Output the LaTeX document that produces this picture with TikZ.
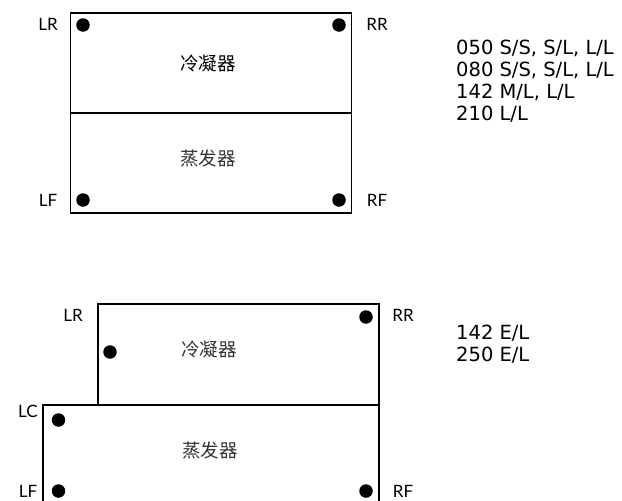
\documentclass[tikz,border=0pt]{standalone}
\usepackage{fontspec}
\setmainfont{DejaVu Sans}
\newfontfamily\cjk{Noto Sans CJK SC}
\newfontfamily\latofont{Lato}
\definecolor{txtgray}{HTML}{333333}
\begin{document}
\begin{tikzpicture}[x=1pt,y=-1pt,
  boxline/.style={line width=1.8pt},
  dotmark/.style={circle,fill=black,inner sep=0pt,minimum size=13.5pt},
  lbl/.style={font=\latofont\fontsize{17}{20}\selectfont, inner sep=0pt},
  cn/.style={font=\cjk\fontsize{18.5}{22}\selectfont, inner sep=0pt},
  info/.style={font=\fontsize{19.5}{22}\selectfont, anchor=base west, inner sep=0pt}]
\useasboundingbox (0,0) rectangle (622,501);

% ---------- top figure ----------
\node[boxline, draw, minimum width=281pt, minimum height=100pt, inner sep=0pt] (cond1) at (211,63) {};
\node[boxline, draw, minimum width=281pt, minimum height=100pt, inner sep=0pt] (evap1) at (211,163) {};
\node[cn] (c1txt) at (208,63) {冷凝器};
\node[cn, text=txtgray] (e1txt) at (208,159) {蒸发器};
\node[dotmark] (d1) at (83,25) {};
\node[dotmark] (d2) at (339,25) {};
\node[dotmark] (d3) at (83,200) {};
\node[dotmark] (d4) at (339,200) {};
\node[lbl] (lr1) at (48,24) {LR};
\node[lbl] (rr1) at (377,24) {RR};
\node[lbl] (lf1) at (48,200) {LF};
\node[lbl] (rf1) at (377,200) {RF};
\node[info] (t1) at (456,54.5) {050 S/S, S/L, L/L};
\node[info] (t2) at (456,76.5) {080 S/S, S/L, L/L};
\node[info] (t3) at (456,98.5) {142 M/L, L/L};
\node[info] (t4) at (456,120.5) {210 L/L};

% ---------- bottom figure ----------
\node[boxline, draw, minimum width=281pt, minimum height=101pt, inner sep=0pt] (cond2) at (238.2,354.5) {};
\coordinate (ebl) at (42.7,510);
\coordinate (ebr) at (378.7,510);
\coordinate (etl) at (42.7,405);
\coordinate (etr) at (378.7,405);
\draw[boxline] (ebl) -- (etl) -- (etr) -- (ebr);
\node[cn, text=txtgray] (c2txt) at (209,349) {冷凝器};
\node[cn, text=txtgray] (e2txt) at (210,451) {蒸发器};
\node[dotmark] (d5) at (366,317) {};
\node[dotmark] (d6) at (110,352) {};
\node[dotmark] (d7) at (58.5,420) {};
\node[dotmark] (d8) at (58.5,491) {};
\node[dotmark] (d9) at (366,491) {};
\node[lbl] (lr2) at (73,315) {LR};
\node[lbl] (rr2) at (403,315) {RR};
\node[lbl] (lc2) at (28,411) {LC};
\node[lbl] (lf2) at (28,491) {LF};
\node[lbl] (rf2) at (403,491) {RF};
\node[info] (t5) at (456,339.7) {142 E/L};
\node[info] (t6) at (456,361.2) {250 E/L};
\end{tikzpicture}
\end{document}
